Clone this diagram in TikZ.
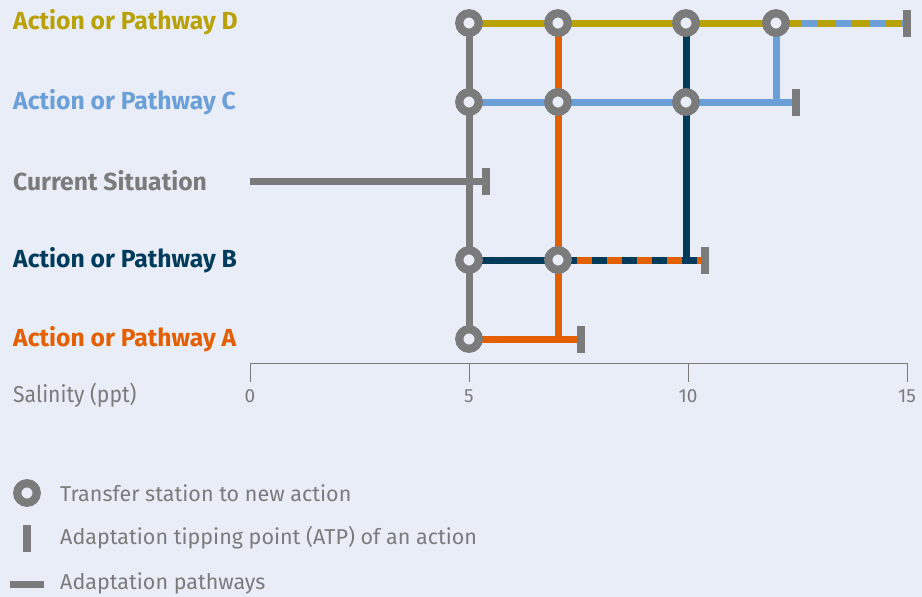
\documentclass[tikz,border=0pt]{standalone}
\usepackage{fontspec}
\setmainfont{Fira Sans}
\newfontfamily\axisfont[FakeStretch=0.92]{Fira Sans}
\definecolor{bg}{HTML}{E9EDF8}
\definecolor{cgray}{HTML}{7B7B7B}
\definecolor{cyel}{HTML}{B8A207}
\definecolor{clblue}{HTML}{6A9FD8}
\definecolor{cdblue}{HTML}{003B5C}
\definecolor{corange}{HTML}{E35F00}
\begin{document}
\begin{tikzpicture}[x=1pt,y=-1pt,
  pathline/.style={line width=7pt},
  station/.style={circle, draw=cgray, line width=8.2pt, fill=bg, minimum size=19.5pt, inner sep=0pt},
  atp/.style={rectangle, draw=none, fill=cgray, minimum width=7.5pt, minimum height=27pt, inner sep=0pt},
  rowlab/.style={anchor=west, inner sep=0pt, font=\bfseries\fontsize{24.7}{28}\selectfont},
  axlab/.style={inner sep=0pt, text=cgray, font=\axisfont\fontsize{23}{26}\selectfont},
  ticklab/.style={inner sep=0pt, text=cgray, font=\fontsize{19}{22}\selectfont},
  leglab/.style={anchor=west, inner sep=0pt, text=cgray, font=\fontsize{21.5}{25}\selectfont}]
\fill[bg] (0,0) rectangle (922,597);
\useasboundingbox (0,0) rectangle (922,597);
% coordinates
\coordinate (D5) at (469,23); \coordinate (D7) at (558,23); \coordinate (D10) at (686,23);
\coordinate (D12) at (776,23); \coordinate (Dend) at (907,23); \coordinate (Ddash) at (905,23);
\coordinate (C5) at (469,102); \coordinate (C7) at (558,102); \coordinate (C10) at (686,102);
\coordinate (C12) at (776,102); \coordinate (Cend) at (796,102);
\coordinate (S0) at (250,181); \coordinate (Send) at (486,181);
\coordinate (B5) at (469,260); \coordinate (B7) at (558,260); \coordinate (B10) at (686,260);
\coordinate (Bend) at (705,260); \coordinate (Bdash) at (702,260);
\coordinate (A5) at (469,339); \coordinate (A7) at (558,339); \coordinate (Aend) at (581,339);
% labels
\node[rowlab, text=cyel] (lD) at (13,22) {Action or Pathway D};
\node[rowlab, text=clblue] (lC) at (13,102) {Action or Pathway C};
\node[rowlab, text=cgray] (lS) at (13,181) {Current Situation};
\node[rowlab, text=cdblue] (lB) at (13,260) {Action or Pathway B};
\node[rowlab, text=corange] (lA) at (13,339) {Action or Pathway A};
% lines
\draw[pathline, cgray] (S0) -- (Send);
\draw[pathline, cgray] (D5) -- (A5);
\draw[pathline, corange] (D7) -- (A7);
\draw[pathline, corange] (A5) -- (Aend);
\draw[pathline, cdblue] (D10) -- (B10);
\draw[pathline, cdblue] (B5) -- (Bend);
\draw[pathline, corange, dash pattern=on 15pt off 15pt, dash phase=11.3pt] (B7) -- (Bdash);
\draw[pathline, clblue] (D12) -- (C12);
\draw[pathline, clblue] (C5) -- (Cend);
\draw[pathline, cyel] (D5) -- (Dend);
\draw[pathline, clblue, dash pattern=on 16.7pt off 16.7pt, dash phase=7.7pt] (D12) -- (Ddash);
% ATP bars
\node[atp] (tS) at (Send) {};
\node[atp] (tA) at (Aend) {};
\node[atp] (tB) at (Bend) {};
\node[atp] (tC) at (Cend) {};
\node[atp] (tD) at (Dend) {};
% stations
\foreach \p in {D5,D7,D10,D12,C5,C7,C10,B5,B7,A5} \node[station] (st\p) at (\p) {};
% axis
\coordinate (x0) at (250,363); \coordinate (x5) at (469,363);
\coordinate (x10) at (688,363); \coordinate (x15) at (907,363);
\draw[cgray, line width=1pt] (x0) -- (x15);
\foreach \t/\v in {x0/0,x5/5,x10/10,x15/15}{
  \draw[cgray, line width=1pt] (\t) -- ++(0,19);
  \node[ticklab, anchor=base] (n\t) at ([yshift=-39pt]\t) {\v};
}
\node[axlab, anchor=base west] (sal) at (13,402) {Salinity (ppt)};
% legend
\node[station] (legst) at (27,493) {};
\node[leglab] (leg1) at (60,493) {Transfer station to new action};
\node[atp] (legatp) at (27,538) {};
\node[leglab] (leg2) at (60,538) {Adaptation tipping point (ATP) of an action};
\coordinate (lp1) at (10,584); \coordinate (lp2) at (44,584);
\draw[pathline, cgray] (lp1) -- (lp2);
\node[leglab] (leg3) at (60,583) {Adaptation pathways};
\end{tikzpicture}
\end{document}
